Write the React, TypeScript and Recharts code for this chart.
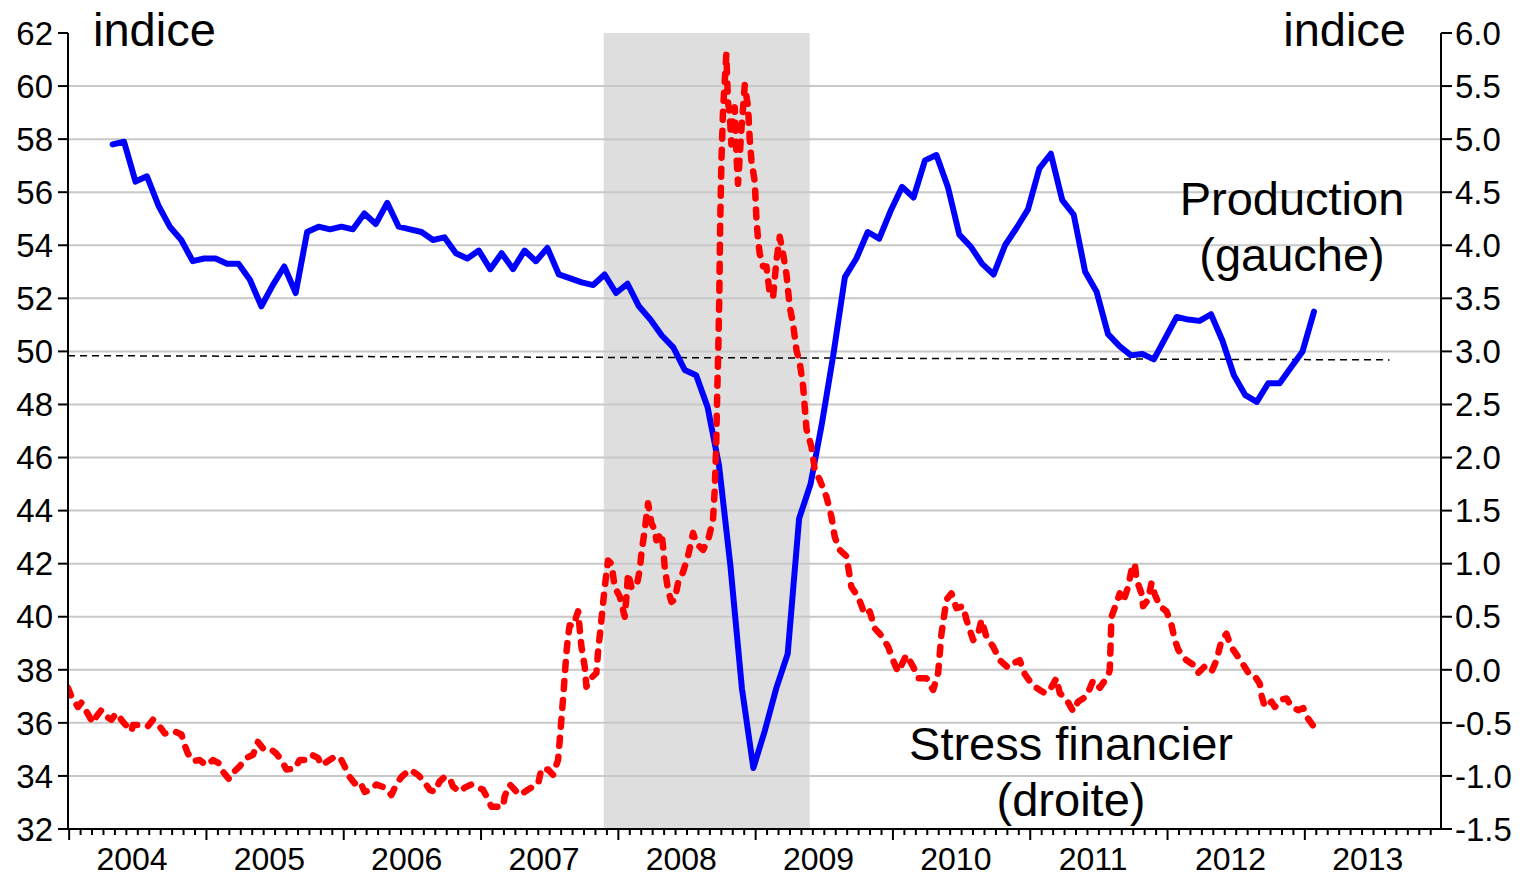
import React from 'react';
import { LineChart, Line, XAxis, YAxis, ReferenceArea, ReferenceLine } from 'recharts';

// ---------- data ----------
// x position is expressed in months since the start of January 2004
const yearLabels = ['2004', '2005', '2006', '2007', '2008', '2009', '2010', '2011', '2012', '2013'];
const leftTicks = [32, 34, 36, 38, 40, 42, 44, 46, 48, 50, 52, 54, 56, 58, 60, 62];
const rightTicks = [-1.5, -1.0, -0.5, 0, 0.5, 1.0, 1.5, 2.0, 2.5, 3.0, 3.5, 4.0, 4.5, 5.0, 5.5, 6.0];
const gridValues = [34, 36, 38, 40, 42, 44, 46, 48, 50, 52, 54, 56, 58, 60];
const recessionStart = 46.72;
const recessionEnd = 64.73;
const thresholdLine = [
  { m: -0.1, v: 49.84 },
  { m: 115.4, v: 49.68 },
];

// Production (gauche) : monthly index
const productionStartMonth = 3.8;
const production = [
  57.8, 57.9, 56.4, 56.6, 55.5, 54.7, 54.2, 53.4, 53.5, 53.5, 53.3, 53.3,
  52.7, 51.7, 52.5, 53.2, 52.2, 54.5, 54.7, 54.6, 54.7, 54.6, 55.2, 54.8,
  55.6, 54.7, 54.6, 54.5, 54.2, 54.3, 53.7, 53.5, 53.8, 53.1, 53.7, 53.1,
  53.8, 53.4, 53.9, 52.9, 52.75, 52.6, 52.5, 52.9, 52.2, 52.55, 51.7, 51.2,
  50.6, 50.15, 49.3, 49.1, 47.9, 45.7, 41.9, 37.3, 34.3, 35.7, 37.3, 38.6,
  43.7, 45.0, 47.3, 49.9, 52.8, 53.5, 54.5, 54.25, 55.3, 56.2, 55.8, 57.2,
  57.4, 56.2, 54.4, 53.95, 53.3, 52.9, 54.0, 54.65, 55.35, 56.9, 57.45, 55.7,
  55.15, 53.0, 52.25, 50.65, 50.2, 49.85, 49.9, 49.7, 50.5, 51.3, 51.2, 51.15,
  51.4, 50.4, 49.1, 48.35, 48.1, 48.8, 48.8, 49.4, 50.0, 51.5,
];

// Stress financier (droite) : [month, value]
const stress: [number, number][] = [
  [-0.1, -0.17], [0.19, -0.25], [0.77, -0.35], [1.07, -0.31], [1.5, -0.39], [2.08, -0.5],
  [2.38, -0.44], [2.81, -0.38], [3.25, -0.44], [3.69, -0.47], [4.13, -0.41], [4.7, -0.49],
  [5.44, -0.58], [5.58, -0.52], [6.16, -0.52], [6.89, -0.53], [7.33, -0.47], [7.76, -0.51],
  [8.35, -0.6], [9.22, -0.58], [9.81, -0.61], [10.1, -0.71], [10.38, -0.79], [10.82, -0.86],
  [11.41, -0.85], [11.99, -0.9], [12.57, -0.85], [13.09, -0.88], [13.44, -0.96], [13.97, -1.03],
  [14.32, -0.97], [14.9, -0.91], [15.49, -0.83], [16.07, -0.8], [16.5, -0.68], [16.94, -0.74],
  [17.53, -0.74], [18.11, -0.79], [18.55, -0.85], [18.99, -0.94], [19.71, -0.93], [20.15, -0.85],
  [20.59, -0.85], [21.17, -0.8], [21.75, -0.83], [22.05, -0.9], [22.62, -0.86], [23.06, -0.83],
  [23.65, -0.82], [24.08, -0.91], [24.52, -1.01], [24.96, -1.07], [25.39, -1.05], [25.83, -1.15],
  [26.42, -1.13], [26.85, -1.08], [27.58, -1.11], [28.16, -1.18], [28.6, -1.08], [29.04, -1.01],
  [29.76, -0.94], [30.49, -0.99], [30.93, -1.04], [31.51, -1.13], [31.95, -1.15], [32.39, -1.05],
  [32.82, -1.01], [33.26, -1.02], [33.55, -1.1], [34.14, -1.15], [34.57, -1.11], [35.16, -1.08],
  [35.59, -1.1], [36.17, -1.13], [36.47, -1.19], [36.91, -1.29], [37.48, -1.29], [37.92, -1.29],
  [38.07, -1.19], [38.51, -1.08], [38.94, -1.13], [39.38, -1.18], [39.82, -1.15], [40.4, -1.11],
  [40.98, -1.08], [41.28, -0.93], [41.85, -0.94], [42.29, -0.99], [42.73, -0.85], [42.88, -0.66],
  [43.17, -0.27], [43.46, 0.16], [43.6, 0.31], [43.75, 0.42], [44.04, 0.41], [44.48, 0.55],
  [44.77, 0.22], [45.06, 0.03], [45.21, -0.16], [45.5, -0.09], [46.08, -0.03], [46.22, 0.16],
  [46.52, 0.47], [46.81, 0.78], [47.1, 1.03], [47.4, 1.0], [47.68, 0.78], [48.12, 0.69],
  [48.56, 0.5], [48.71, 0.69], [48.85, 0.91], [49.14, 0.78], [49.58, 0.78], [49.87, 0.94],
  [50.02, 1.1], [50.31, 1.32], [50.6, 1.57], [50.89, 1.38], [51.18, 1.32], [51.33, 1.22],
  [51.77, 1.29], [51.91, 1.16], [52.05, 0.97], [52.34, 0.75], [52.64, 0.64], [52.93, 0.66],
  [53.22, 0.82], [53.65, 0.92], [54.09, 1.07], [54.53, 1.29], [54.83, 1.19], [55.4, 1.13],
  [55.84, 1.22], [56.27, 1.41], [56.42, 1.69], [56.55, 2.1], [56.64, 2.6], [56.73, 3.0],
  [56.82, 3.5], [56.9, 4.2], [57.01, 4.8], [57.15, 5.27], [57.3, 5.55], [57.44, 5.8],
  [57.58, 5.35], [57.73, 5.25], [57.88, 4.95], [58.02, 5.25], [58.17, 5.3], [58.32, 4.85],
  [58.46, 4.58], [58.76, 5.1], [59.05, 5.51], [59.34, 5.3], [59.48, 5.0], [59.63, 4.8],
  [59.92, 4.6], [60.07, 4.25], [60.21, 4.05], [60.36, 3.92], [60.65, 3.8], [60.94, 3.8],
  [61.23, 3.55], [61.52, 3.51], [61.82, 3.86], [62.11, 4.08], [62.4, 3.92], [62.69, 3.73],
  [62.98, 3.42], [63.27, 3.26], [63.57, 3.01], [63.86, 2.89], [64.15, 2.67], [64.44, 2.27],
  [64.88, 2.1], [65.17, 1.88], [65.6, 1.79], [66.19, 1.63], [66.63, 1.44], [66.92, 1.25],
  [67.35, 1.13], [67.94, 1.07], [68.37, 0.78], [68.95, 0.69], [69.54, 0.52], [69.97, 0.55],
  [70.41, 0.39], [70.85, 0.34], [71.57, 0.22], [72.01, 0.09], [72.45, -0.02], [73.18, 0.14],
  [73.76, 0.03], [74.2, -0.08], [74.93, -0.08], [75.51, -0.19], [75.95, -0.03], [76.24, 0.34],
  [76.68, 0.66], [77.11, 0.72], [77.55, 0.58], [78.13, 0.6], [78.43, 0.47], [79.01, 0.28],
  [79.44, 0.34], [79.74, 0.47], [80.17, 0.31], [80.75, 0.22], [81.34, 0.09], [82.06, 0.02],
  [82.5, 0.06], [83.08, 0.09], [83.52, -0.04], [84.25, -0.15], [84.83, -0.19], [85.27, -0.22],
  [85.71, -0.19], [86.29, -0.08], [86.58, -0.22], [87.17, -0.28], [87.75, -0.39], [88.18, -0.3],
  [88.92, -0.25], [89.5, -0.1], [90.08, -0.17], [90.52, -0.1], [90.81, -0.06], [90.95, 0.0],
  [91.1, 0.5], [91.54, 0.63], [91.83, 0.72], [92.12, 0.64], [92.55, 0.78], [92.85, 0.94],
  [93.14, 1.0], [93.29, 0.85], [93.72, 0.72], [93.86, 0.6], [94.3, 0.66], [94.6, 0.82],
  [94.89, 0.71], [95.32, 0.6], [95.91, 0.55], [96.35, 0.42], [96.64, 0.28], [96.93, 0.19],
  [97.36, 0.12], [97.66, 0.09], [98.22, 0.05], [98.67, -0.03], [99.24, 0.03], [99.84, -0.02],
  [100.28, 0.09], [100.72, 0.28], [101.15, 0.34], [101.44, 0.25], [101.73, 0.19], [102.17, 0.12],
  [102.6, 0.05], [103.19, -0.05], [103.63, -0.06], [104.06, -0.13], [104.21, -0.24], [104.5, -0.35],
  [105.09, -0.3], [105.38, -0.35], [105.96, -0.28], [106.4, -0.27], [106.84, -0.35], [107.42, -0.38],
  [107.86, -0.36], [108.15, -0.44], [108.74, -0.53],
];

// ---------- derived tables ----------
const productionData = production.map((v, i) => ({ m: productionStartMonth + i, production: v }));
const stressData = stress.map(([m, v]) => ({ m, stress: v }));
const monthTicks = Array.from({ length: 120 }, (_, i) => i);
const labelTicks = yearLabels.map((_, i) => i * 12 + 5.5);
const xTicks = [...monthTicks, ...labelTicks].sort((a, b) => a - b);

const FONT = '"Liberation Sans", Arial, Helvetica, sans-serif';

const XTick = (props: any) => {
  const { x, y, payload } = props;
  const v = payload.value as number;
  if (Number.isInteger(v)) {
    const long = v % 12 === 0;
    return <line x1={x} x2={x} y1={y} y2={y + (long ? 11 : 6)} stroke="#000" strokeWidth={2} />;
  }
  const idx = Math.round((v - 5.5) / 12);
  return (
    <text x={x} y={y + 41} textAnchor="middle" fontSize={32} fontFamily={FONT} fill="#000">
      {yearLabels[idx]}
    </text>
  );
};

export default function App() {
  return (
    <div style={{ position: 'absolute', left: 0, top: 0, width: 1522, height: 878, background: '#fff' }}>
      <LineChart width={1522} height={878} margin={{ top: 33, right: 0, bottom: 0, left: 0 }}>
        <XAxis
          dataKey="m"
          type="number"
          domain={[-0.1, 119.9]}
          ticks={xTicks}
          interval={0}
          allowDataOverflow
          tickSize={0}
          tickMargin={0}
          tickLine={false}
          tick={(p: any) => <XTick {...p} />}
          axisLine={{ stroke: '#000', strokeWidth: 2 }}
          height={49}
        />
        <YAxis
          yAxisId="left"
          domain={[32, 62]}
          ticks={leftTicks}
          interval={0}
          allowDataOverflow
          width={68}
          tickSize={10}
          tickMargin={5}
          axisLine={{ stroke: '#000', strokeWidth: 2 }}
          tickLine={{ stroke: '#000', strokeWidth: 2 }}
          tick={{ fontSize: 33, fill: '#000', fontFamily: FONT }}
        />
        <YAxis
          yAxisId="right"
          orientation="right"
          domain={[-1.5, 6]}
          ticks={rightTicks}
          interval={0}
          allowDataOverflow
          width={81}
          tickSize={11}
          tickMargin={3}
          tickFormatter={(v: number) => v.toFixed(1)}
          axisLine={{ stroke: '#000', strokeWidth: 2 }}
          tickLine={{ stroke: '#000', strokeWidth: 2 }}
          tick={{ fontSize: 33, fill: '#000', fontFamily: FONT }}
        />
        <ReferenceArea
          yAxisId="left"
          x1={recessionStart}
          x2={recessionEnd}
          y1={32}
          y2={62}
          fill="#bdbdbd"
          fillOpacity={0.5}
          stroke="none"
        />
        {gridValues.map((g) => (
          <ReferenceLine key={g} yAxisId="left" y={g} stroke="#c8c8c8" strokeWidth={2} />
        ))}
        <ReferenceLine
          yAxisId="left"
          segment={[
            { x: thresholdLine[0].m, y: thresholdLine[0].v },
            { x: thresholdLine[1].m, y: thresholdLine[1].v },
          ]}
          stroke="#000"
          strokeWidth={1.5}
          strokeDasharray="7 5"
        />
        <Line
          yAxisId="left"
          data={productionData}
          dataKey="production"
          type="linear"
          stroke="#0000ff"
          strokeWidth={6}
          strokeLinejoin="round"
          strokeLinecap="round"
          dot={false}
          activeDot={false}
          isAnimationActive={false}
        />
        <Line
          yAxisId="right"
          data={stressData}
          dataKey="stress"
          type="linear"
          stroke="#ff0000"
          strokeWidth={6.5}
          strokeDasharray="8 11"
          strokeLinecap="round"
          strokeLinejoin="round"
          dot={false}
          activeDot={false}
          isAnimationActive={false}
        />
      </LineChart>
      <svg
        width={1522}
        height={878}
        style={{ position: 'absolute', left: 0, top: 0, pointerEvents: 'none' }}
        fontFamily={FONT}
        fill="#000"
      >
        <text x={93} y={46} fontSize={47} textAnchor="start">indice</text>
        <text x={1406} y={46} fontSize={47} textAnchor="end">indice</text>
        <text x={1292} y={215} fontSize={47} textAnchor="middle">Production</text>
        <text x={1292} y={271} fontSize={47} textAnchor="middle">(gauche)</text>
        <text x={1071} y={760} fontSize={47} textAnchor="middle">Stress financier</text>
        <text x={1071} y={816} fontSize={47} textAnchor="middle">(droite)</text>
      </svg>
    </div>
  );
}
